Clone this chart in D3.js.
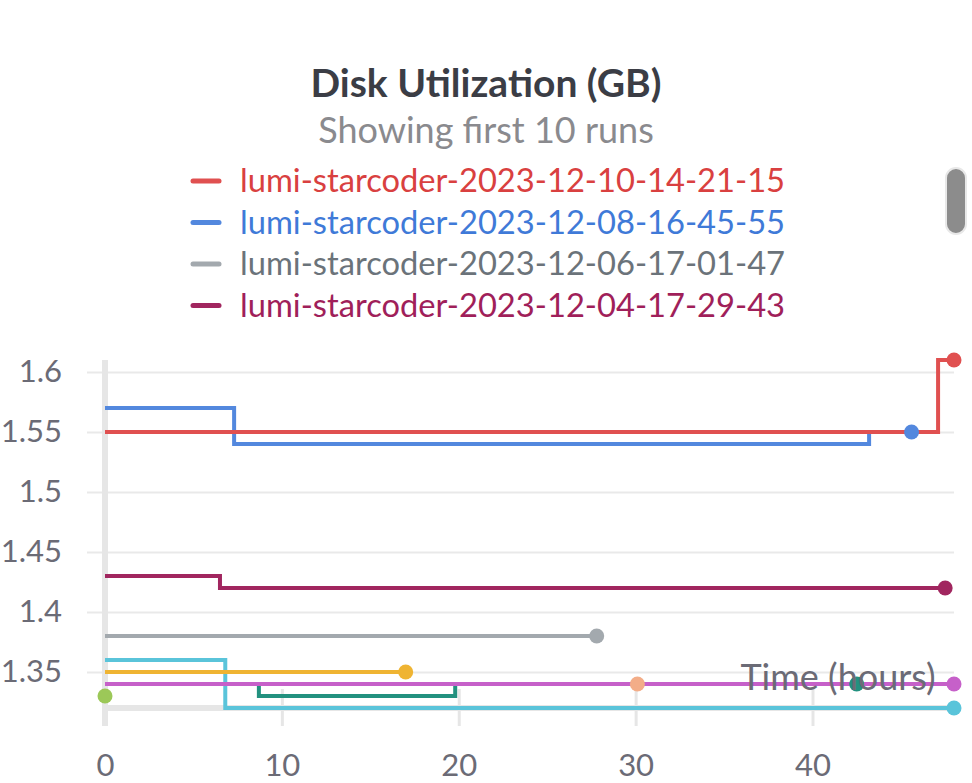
<!DOCTYPE html>
<html><head><meta charset="utf-8">
<script src="https://cdn.jsdelivr.net/npm/d3@7"></script>
<style>
html,body{margin:0;padding:0;background:#fff;}
svg{display:block;font-family:"Source Sans Pro",Lato,"Noto Sans",sans-serif;}
</style></head>
<body>
<svg id="chart" width="972" height="783"></svg>
<script>
// ---- data ----
const runNames = [
  "lumi-starcoder-2023-12-10-14-21-15",
  "lumi-starcoder-2023-12-08-16-45-55",
  "lumi-starcoder-2023-12-06-17-01-47",
  "lumi-starcoder-2023-12-04-17-29-43",
  "run-5", "run-6", "run-7", "run-8", "run-9", "run-10"
];
const runColors = ["#e05050","#5388de","#a3a9ae","#a1265f","#5ac4da","#efb432","#c660c9","#22917f","#f3ad88","#9cc858"];
const legendTextColors = ["#d94040","#3f7ad8","#6b737a","#a01f5a"];
// step series: [hours, GB]
const redSeries     = [[0,1.55],[47.1,1.55],[47.1,1.61],[48,1.61]];
const blueSeries    = [[0,1.57],[7.3,1.57],[7.3,1.54],[43.2,1.54],[43.2,1.55],[45.6,1.55]];
const graySeries    = [[0,1.38],[27.8,1.38]];
const maroonSeries  = [[0,1.43],[6.5,1.43],[6.5,1.42],[47.5,1.42]];
const peachSeries   = [[0,1.34],[30.1,1.34]];
const tealSeries    = [[0,1.34],[8.7,1.34],[8.7,1.33],[19.8,1.33],[19.8,1.34],[42.5,1.34]];
const cyanSeries    = [[0,1.36],[6.8,1.36],[6.8,1.32],[48,1.32]];
const yellowSeries  = [[0,1.35],[17.0,1.35]];
const magentaSeries = [[0,1.34],[48,1.34]];
const greenSeries   = [[0,1.33]];
// draw order (index into runNames/runColors)
const drawOrder = [
  {i:8, d:peachSeries},
  {i:7, d:tealSeries},
  {i:2, d:graySeries},
  {i:3, d:maroonSeries},
  {i:4, d:cyanSeries},
  {i:5, d:yellowSeries},
  {i:6, d:magentaSeries},
  {i:1, d:blueSeries},
  {i:0, d:redSeries},
  {i:9, d:greenSeries}
];
const yTicks = [1.35,1.4,1.45,1.5,1.55,1.6];
const yTickLabels = ["1.35","1.4","1.45","1.5","1.55","1.6"];
const xTicks = [0,10,20,30,40];
const titleText = "Disk Utilization (GB)";
const subtitleText = "Showing first 10 runs";
const xLabel = "Time (hours)";

// ---- layout ----
const svg = d3.select("#chart");
const x = d3.scaleLinear().domain([0,48]).range([105,954]);
const y = d3.scaleLinear().domain([1.32,1.61]).range([708,360]);
const tickColor = "#6b6b76";
const fam = "'Source Sans Pro',Lato,'Noto Sans',sans-serif";

// title
svg.append("text").attr("x",486).attr("y",97).attr("text-anchor","middle")
  .attr("font-size",39).attr("font-weight",700).attr("fill","#3b3d45").text(titleText);
svg.append("text").attr("x",486).attr("y",143).attr("text-anchor","middle")
  .attr("font-size",36).attr("fill","#8a8a8e").text(subtitleText);

// legend
const leg = svg.append("g");
runNames.slice(0,4).forEach((n,k)=>{
  const yy = 181 + k*41.5;
  leg.append("line").attr("x1",193).attr("x2",219).attr("y1",yy).attr("y2",yy)
    .attr("stroke",runColors[k]).attr("stroke-width",5).attr("stroke-linecap","round");
  leg.append("text").attr("x",240).attr("y",yy+11).attr("font-size",32.7)
    .attr("fill",legendTextColors[k]).text(n);
});

// scrollbar
svg.append("rect").attr("x",946).attr("y",168).attr("width",20).attr("height",66)
  .attr("rx",10).attr("fill","#8c8c8c").attr("stroke","#e8e8e8").attr("stroke-width",2);

// y grid + axis
const yAxis = d3.axisLeft(y).tickValues(yTicks).tickFormat((d,i)=>yTickLabels[i])
  .tickSize(-(954-87)).tickPadding(25);
const gy = svg.append("g").attr("transform","translate(87,0)").call(yAxis);
gy.select(".domain").remove();
gy.selectAll(".tick line").attr("stroke","#e9e9e9").attr("stroke-width",2);
gy.selectAll(".tick text").attr("font-size",31).attr("fill",tickColor)
  .attr("font-family",fam).attr("x",-25);

// x axis ticks
const xAxis = d3.axisBottom(x).tickValues(xTicks).tickFormat(d3.format("d"))
  .tickSize(37).tickPadding(33);
const gx = svg.append("g").attr("transform","translate(0,689)").call(xAxis);
gx.select(".domain").remove();
gx.selectAll(".tick line").attr("stroke","#e6e6e6").attr("stroke-width",3);
gx.selectAll(".tick text").attr("font-size",31).attr("fill",tickColor)
  .attr("font-family",fam).attr("dy","0").attr("y",87);

// axis lines
svg.append("line").attr("x1",x(0)).attr("x2",x(0)).attr("y1",360).attr("y2",726)
  .attr("stroke","#e6e6e6").attr("stroke-width",6);
svg.append("line").attr("x1",x(0)).attr("x2",x(48)).attr("y1",708).attr("y2",708)
  .attr("stroke","#e6e6e6").attr("stroke-width",6);

// lines
const line = d3.line().x(d=>x(d[0])).y(d=>y(d[1]));
const plot = svg.append("g");
drawOrder.forEach(s=>{
  if (s.d.length>1) {
    plot.append("path").attr("d",line(s.d)).attr("fill","none")
      .attr("stroke",runColors[s.i]).attr("stroke-width",4).attr("stroke-linejoin","miter");
  }
});
// end dots
drawOrder.forEach(s=>{
  const last = s.d[s.d.length-1];
  plot.append("circle").attr("cx",x(last[0])).attr("cy",y(last[1])).attr("r",7.5)
    .attr("fill",runColors[s.i]);
});

// x label
svg.append("text").attr("x",838).attr("y",690).attr("text-anchor","middle")
  .attr("font-size",36).attr("fill",tickColor).text(xLabel);
</script>
</body></html>
